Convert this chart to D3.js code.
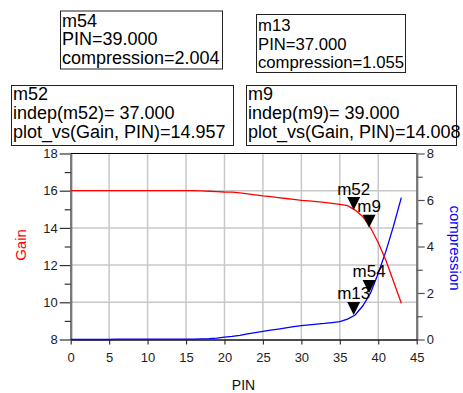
<!DOCTYPE html>
<html>
<head>
<meta charset="utf-8">
<script src="https://cdn.jsdelivr.net/npm/d3@7"></script>
<style>
  html, body { margin: 0; padding: 0; background: #fff; }
  svg { display: block; font-family: "Liberation Sans", Arial, sans-serif; }
</style>
</head>
<body>
<svg id="chart" width="463" height="393"></svg>
<script>
// ---- data ----
const pin = [0,1,2,3,4,5,6,7,8,9,10,11,12,13,14,15,16,17,18,19,20,21,22,23,24,25,26,27,28,29,30,31,32,33,34,35,36,37,38,39,40,41,42,43];
const gain = [16,16,16,16,16,16,16,16,16,16,16,16,16,16,16,16,16,15.99,15.97,15.95,15.93,15.92,15.88,15.83,15.78,15.72,15.68,15.63,15.58,15.53,15.48,15.45,15.41,15.37,15.32,15.27,15.2,14.957,14.6,14.008,13.2,12.25,11.1,9.95];
const compression = [0,0,0,0,0,0,0.02,0.02,0.02,0.02,0.02,0.02,0.02,0.02,0.02,0.02,0.02,0.03,0.04,0.06,0.1,0.13,0.18,0.24,0.3,0.35,0.4,0.45,0.5,0.55,0.6,0.63,0.66,0.69,0.73,0.77,0.88,1.055,1.45,2.004,2.85,3.8,4.9,6.1];
const xTicks = [0,5,10,15,20,25,30,35,40,45];
const gainTicks = [8,10,12,14,16,18];
const gainMinor = [9,11,13,15,17];
const compTicks = [0,2,4,6,8];
const compMinor = [1,3,5,7];
const gainMarkers = [{name:"m52", x:37, y:14.957}, {name:"m9", x:39, y:14.008}];
const compMarkers = [{name:"m13", x:37, y:1.055}, {name:"m54", x:39, y:2.004}];
const boxes = [
  {lines:["m54","PIN=39.000","compression=2.004"]},
  {lines:["m13","PIN=37.000","compression=1.055"]},
  {lines:["m52","indep(m52)= 37.000","plot_vs(Gain, PIN)=14.957"]},
  {lines:["m9","indep(m9)= 39.000","plot_vs(Gain, PIN)=14.008"]}
];
// ---- layout ----
const boxGeom = [
  {x:60.5, y:11, w:162, h:58, tx:62, fs:18, base:[26.5,45,63.5]},
  {x:256.5, y:14.5, w:149, h:58, tx:258, fs:16.7, base:[31,49.5,68]},
  {x:11.5, y:85.5, w:222, h:60, tx:13, fs:18, base:[99.5,118.5,137.5]},
  {x:246.5, y:85.5, w:210, h:60, tx:248, fs:18, base:[99.5,118.5,137.5]}
];
const L = 70.7, R = 416.7, T = 153.5, B = 339.5;
const svg = d3.select("#chart");
const x = d3.scaleLinear().domain([0,45]).range([L,R]);
const yL = d3.scaleLinear().domain([8,18]).range([B,T]);
const yR = d3.scaleLinear().domain([0,8]).range([B,T]);

// grid
const grid = svg.append("g");
grid.selectAll("line.v").data(xTicks.slice(1,-1)).join("line")
  .attr("x1", d=>x(d)).attr("x2", d=>x(d)).attr("y1", T).attr("y2", B)
  .attr("stroke", "#c8c8c8").attr("stroke-width", 1.5);
grid.selectAll("line.h").data(gainTicks.slice(1,-1)).join("line")
  .attr("y1", d=>yL(d)).attr("y2", d=>yL(d)).attr("x1", L).attr("x2", R)
  .attr("stroke", "#c8c8c8").attr("stroke-width", 1.5);

// top border
svg.append("line").attr("x1", L).attr("x2", R).attr("y1", T).attr("y2", T)
  .attr("stroke", "#000").attr("stroke-width", 1.2);

function styleAxis(g, col, w) {
  g.select(".domain").attr("stroke", col).attr("stroke-width", w);
  g.selectAll(".tick line").attr("stroke", col).attr("stroke-width", 1.2);
  g.selectAll(".tick text").attr("fill", "#222").style("font-size", "13px")
    .style("font-family", '"Liberation Sans", Arial, sans-serif');
}

// left axis
const gl = svg.append("g").attr("transform", `translate(${L},0)`)
  .call(d3.axisLeft(yL).tickValues(gainTicks).tickSize(11).tickPadding(2).tickSizeOuter(0).tickFormat(d3.format("d")));
styleAxis(gl, "#777", 2);
const glm = svg.append("g").attr("transform", `translate(${L},0)`)
  .call(d3.axisLeft(yL).tickValues(gainMinor).tickSize(6).tickFormat("").tickSizeOuter(0));
styleAxis(glm, "#777", 2);
gl.selectAll(".tick line").attr("stroke", "#333");
glm.selectAll(".tick line").attr("stroke", "#333");

// right axis
const gr = svg.append("g").attr("transform", `translate(${R},0)`)
  .call(d3.axisRight(yR).tickValues(compTicks).tickSize(8).tickPadding(2).tickSizeOuter(0).tickFormat(d3.format("d")));
styleAxis(gr, "#777", 2);
const grm = svg.append("g").attr("transform", `translate(${R},0)`)
  .call(d3.axisRight(yR).tickValues(compMinor).tickSize(6).tickFormat("").tickSizeOuter(0));
styleAxis(grm, "#777", 2);
gr.selectAll(".tick line").attr("stroke", "#555");
grm.selectAll(".tick line").attr("stroke", "#555");

// bottom axis
const gb = svg.append("g").attr("transform", `translate(0,${B})`)
  .call(d3.axisBottom(x).tickValues(xTicks).tickSize(5).tickPadding(8).tickSizeOuter(0).tickFormat(d3.format("d")));
styleAxis(gb, "#111", 1.5);
gb.selectAll(".tick line").attr("stroke", "#333");

// lines
const gainData = pin.map((p,i)=>[p, gain[i]]);
const compData = pin.map((p,i)=>[p, compression[i]]);
svg.append("path").datum(compData)
  .attr("d", d3.line().x(d=>x(d[0])).y(d=>yR(d[1])))
  .attr("fill", "none").attr("stroke", "#0000ff").attr("stroke-width", 1.3);
svg.append("path").datum(gainData)
  .attr("d", d3.line().x(d=>x(d[0])).y(d=>yL(d[1])))
  .attr("fill", "none").attr("stroke", "#ff0000").attr("stroke-width", 1.3);

// markers
function drawMarker(m, yScale) {
  const px = x(m.x) - 1.5, py = yScale(m.y);
  const g = svg.append("g");
  g.append("path")
    .attr("d", `M${px},${py} L${px-6.5},${py-13} L${px+6.5},${py-13} Z`)
    .attr("fill", "#000");
  g.append("text").attr("x", px).attr("y", py-15.5).attr("text-anchor", "middle")
    .style("font-size", "17px").attr("fill", "#000").text(m.name);
}
gainMarkers.forEach(m => drawMarker(m, yL));
compMarkers.forEach(m => drawMarker(m, yR));

// axis titles
svg.append("text").attr("transform", `translate(26,245) rotate(-90)`)
  .attr("text-anchor", "middle").style("font-size", "15px").attr("fill", "#ff0000").text("Gain");
svg.append("text").attr("transform", `translate(450,248) rotate(90)`)
  .attr("text-anchor", "middle").style("font-size", "15px").attr("fill", "#0000ff").text("compression");
svg.append("text").attr("x", 243.5).attr("y", 390).attr("text-anchor", "middle")
  .style("font-size", "14px").attr("fill", "#111").text("PIN");

// marker readout boxes
boxes.forEach((b, i) => {
  const g0 = boxGeom[i];
  const g = svg.append("g");
  g.append("rect").attr("x", g0.x).attr("y", g0.y).attr("width", g0.w).attr("height", g0.h)
    .attr("fill", "#fff").attr("stroke", "#222").attr("stroke-width", 1);
  b.lines.forEach((t, j) => {
    g.append("text").attr("x", g0.tx).attr("y", g0.base[j])
      .style("font-size", g0.fs + "px").attr("fill", "#000").text(t);
  });
});
</script>
</body>
</html>
